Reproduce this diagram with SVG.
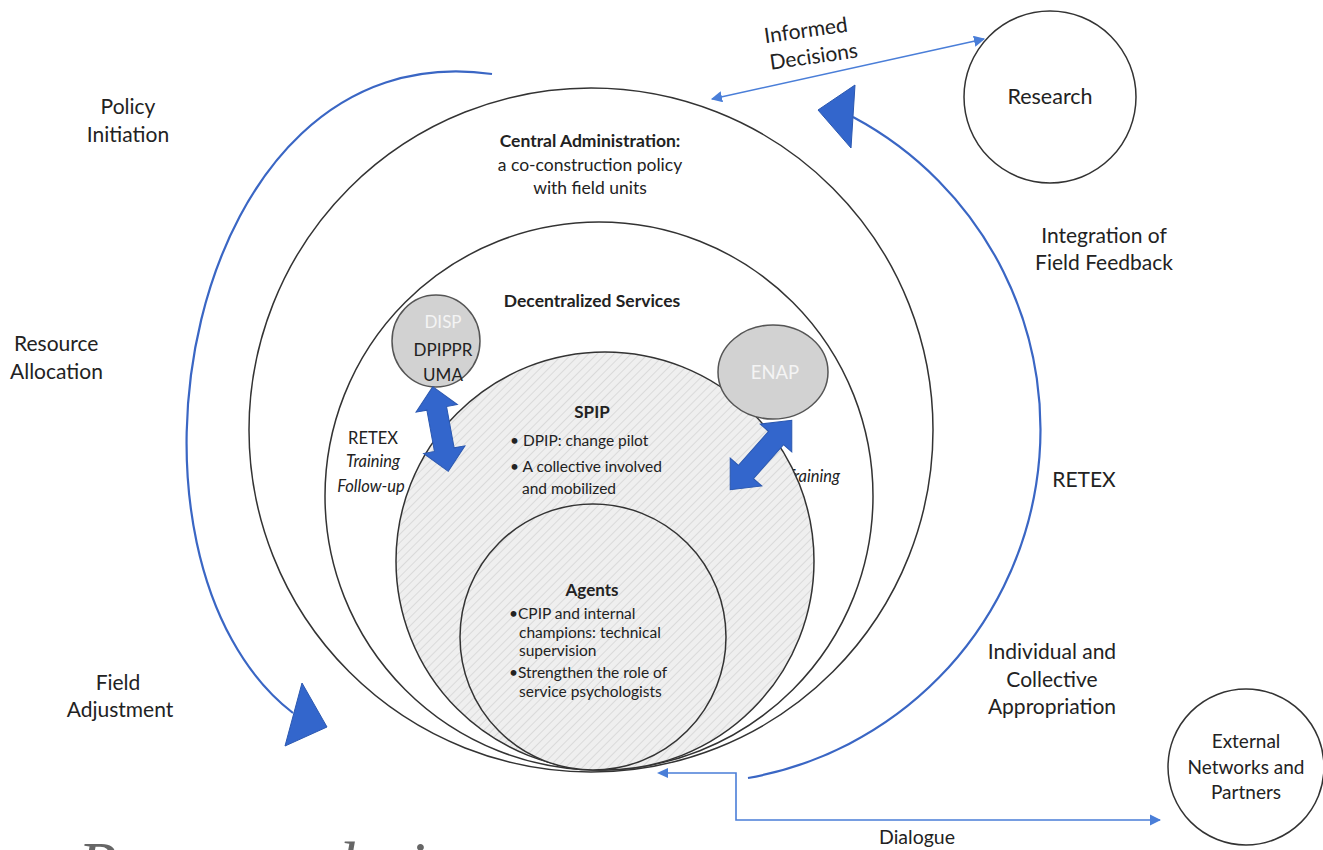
<svg xmlns="http://www.w3.org/2000/svg" width="1323" height="850" viewBox="0 0 1323 850">
<style>
.t{font-family:Lato,"Liberation Sans",sans-serif;fill:#222;font-size:21px;text-anchor:middle}
.s{font-size:15.5px}
.m{font-size:17.5px}
.b{font-weight:bold}
.i{font-style:italic}
.l{text-anchor:start}
.ring{fill:none;stroke:#333;stroke-width:1.5}
.hat{fill:url(#hatch);stroke:#333;stroke-width:1.5}
.bub{fill:#d2d2d2;stroke:#555;stroke-width:1.5}
.arc{fill:none;stroke:#3a66c4;stroke-width:2.2}
.thin{fill:none;stroke:#4a7ed8;stroke-width:1.6}
.head{fill:#3366cc;stroke:#2b58b0;stroke-width:1}
.blk{fill:#3366cc;stroke:#2b58b0;stroke-width:1}
</style>
<defs>
<pattern id="hatch" width="6" height="6" patternUnits="userSpaceOnUse" patternTransform="rotate(45)">
<rect width="6" height="6" fill="#efefef"/>
<line x1="0" y1="0" x2="0" y2="6" stroke="#cdcdcd" stroke-width="1.2"/>
</pattern>
<marker id="ah" viewBox="0 0 10 10" refX="9" refY="5" markerWidth="7" markerHeight="7" orient="auto-start-reverse">
<path d="M0 0 L10 5 L0 10 Z" fill="#4a7ed8"/>
</marker>
<path id="dbl" d="M-43 0 L-21 -21 L-21 -10 L21 -10 L21 -21 L43 0 L21 21 L21 10 L-21 10 L-21 21 Z"/>
</defs>
<rect width="1323" height="850" fill="#fff"/>

<g id="central-administration">
<circle class="ring" cx="591" cy="430" r="342"/>
<text class="t m b" x="590" y="147">Central Administration:</text>
<text class="t m" x="590" y="171">a co-construction policy</text>
<text class="t m" x="590" y="194">with field units</text>
</g>
<g id="decentralized-services">
<circle class="ring" cx="599" cy="496" r="274"/>
<text class="t m b" x="592" y="307">Decentralized Services</text>
<text class="t" x="373" y="444" style="font-size:16.5px">RETEX</text>
<text class="t i" x="373" y="467" style="font-size:16.5px">Training</text>
<text class="t i" x="371" y="492" style="font-size:16.5px">Follow-up</text>
<text class="t i" x="813" y="482" style="font-size:16.5px">Training</text>
</g>
<g id="spip">
<circle class="hat" cx="605" cy="561" r="209"/>
<text class="t b" x="592" y="418" style="font-size:17px">SPIP</text>
<text class="t s l" x="510" y="446">• DPIP: change pilot</text>
<text class="t s l" x="510" y="472">• A collective involved</text>
<text class="t s l" x="522" y="494">and mobilized</text>
</g>
<g id="agents">
<circle class="hat" cx="593" cy="637" r="133"/>
<text class="t b" x="592" y="596" style="font-size:17px">Agents</text>
<text class="t s l" x="509" y="619">•CPIP and internal</text>
<text class="t s l" x="519" y="638">champions: technical</text>
<text class="t s l" x="519" y="656">supervision</text>
<text class="t s l" x="509" y="678">•Strengthen the role of</text>
<text class="t s l" x="519" y="697">service psychologists</text>
</g>
<g id="disp">
<ellipse class="bub" cx="436" cy="341" rx="44" ry="46"/>
<text class="t" x="443" y="328" style="fill:#f4f4f4;font-size:17px">DISP</text>
<text class="t" x="443" y="356" style="font-size:17px">DPIPPR</text>
<text class="t" x="443" y="381" style="font-size:17px">UMA</text>
</g>
<g id="enap">
<ellipse class="bub" cx="773" cy="372" rx="55" ry="47"/>
<text class="t" x="775" y="379" style="fill:#f4f4f4;font-size:18.5px">ENAP</text>
</g>
<g id="research">
<circle class="ring" cx="1050" cy="97" r="86"/>
<text class="t" x="1050" y="104" style="font-size:21.5px">Research</text>
</g>
<g id="external">
<circle class="ring" cx="1246" cy="767" r="78"/>
<text class="t" x="1246" y="748" style="font-size:19px">External</text>
<text class="t" x="1246" y="774" style="font-size:19px">Networks and</text>
<text class="t" x="1246" y="799" style="font-size:19px">Partners</text>
</g>

<g id="connectors">
<path class="arc" d="M492 74 C180 30 95 560 293 713"/>
<polygon class="head" points="302,683 327,727 285,746"/>
<path class="arc" d="M748 778 A354 354 0 0 0 853 117"/>
<polygon class="head" points="855,85 818,110 851,148"/>
<line class="thin" x1="712" y1="99" x2="984" y2="39" marker-start="url(#ah)" marker-end="url(#ah)"/>
<polyline class="thin" points="661,773 736,773 736,820 1160,820" marker-end="url(#ah)"/>
<path d="M657 773 L668 768 L668 778 Z" fill="#4a7ed8"/>
<use href="#dbl" class="blk" transform="translate(440.5 429) rotate(79.6)"/>
<use href="#dbl" class="blk" transform="translate(761 455) rotate(-48.5) scale(1.08 1)"/>
</g>

<g id="labels">
<text class="t" x="128" y="114">Policy</text>
<text class="t" x="128" y="142">Initiation</text>
<text class="t l" x="14" y="351">Resource</text>
<text class="t l" x="10" y="379">Allocation</text>
<text class="t" x="118" y="690">Field</text>
<text class="t" x="120" y="717">Adjustment</text>
<text class="t" x="1104" y="243">Integration of</text>
<text class="t" x="1104" y="270">Field Feedback</text>
<text class="t" x="1084" y="487">RETEX</text>
<text class="t" x="1052" y="659">Individual and</text>
<text class="t" x="1052" y="687">Collective</text>
<text class="t" x="1052" y="714">Appropriation</text>
<text class="t" x="917" y="844" style="font-size:19.5px">Dialogue</text>
<g transform="rotate(-8 810 45)">
<text class="t" x="808" y="37">Informed</text>
<text class="t" x="812" y="64">Decisions</text>
</g>
<text x="78" y="886" style="font-family:'Liberation Serif',serif;font-style:italic;font-size:64px;fill:#666">Program design</text>
</g>
</svg>
